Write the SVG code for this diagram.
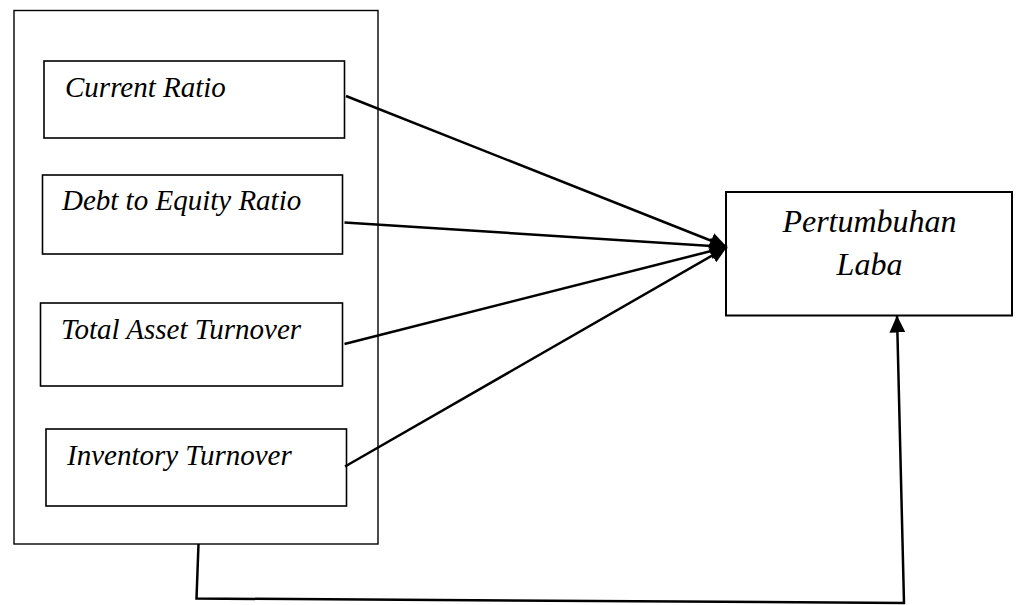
<svg xmlns="http://www.w3.org/2000/svg" width="1018" height="605" viewBox="0 0 1018 605">
<style>
.box{fill:#fff;stroke:#000;stroke-width:1.6}
.outer{fill:#fff;stroke:#000;stroke-width:1.4}
.lbl{font-family:"Liberation Serif","Times New Roman",serif;font-style:italic;font-size:29px;fill:#000}
.big{font-size:32px;text-anchor:middle}
.con{fill:none;stroke:#000;stroke-width:2.5}
</style>
<defs>
<marker id="ah" markerUnits="userSpaceOnUse" markerWidth="18" markerHeight="16" refX="17" refY="8" orient="auto" viewBox="0 0 18 16">
<path d="M0,0 L17,8 L0,16 Z" fill="#000"/>
</marker>
</defs>
<g id="group-box">
<rect class="outer" x="14" y="10.5" width="364" height="533.5"/>
</g>
<g id="current-ratio">
<rect class="box" x="44" y="61" width="300.5" height="77"/>
<text class="lbl" x="65" y="97">Current Ratio</text>
</g>
<g id="debt-to-equity">
<rect class="box" x="42.5" y="175" width="300" height="79"/>
<text class="lbl" x="62" y="210">Debt to Equity Ratio</text>
</g>
<g id="total-asset-turnover">
<rect class="box" x="40.5" y="303" width="302" height="83"/>
<text class="lbl" x="61" y="339">Total Asset Turnover</text>
</g>
<g id="inventory-turnover">
<rect class="box" x="46" y="429" width="300.5" height="77"/>
<text class="lbl" x="67" y="465">Inventory Turnover</text>
</g>
<g id="pertumbuhan-laba">
<rect class="box" x="726" y="192" width="286" height="123.5" style="stroke-width:2"/>
<text class="lbl big" x="869.5" y="232">Pertumbuhan</text>
<text class="lbl big" x="869.5" y="275">Laba</text>
</g>
<g id="connectors">
<line class="con" x1="346" y1="96" x2="727" y2="247" marker-end="url(#ah)"/>
<line class="con" x1="344.5" y1="222.5" x2="727" y2="247" marker-end="url(#ah)"/>
<line class="con" x1="344.5" y1="344" x2="727" y2="247" marker-end="url(#ah)"/>
<line class="con" x1="345" y1="466.5" x2="727" y2="247" marker-end="url(#ah)"/>
<polyline class="con" points="198.5,544 196.5,598.5 904,603 897,315.5" marker-end="url(#ah)"/>
</g>
</svg>
